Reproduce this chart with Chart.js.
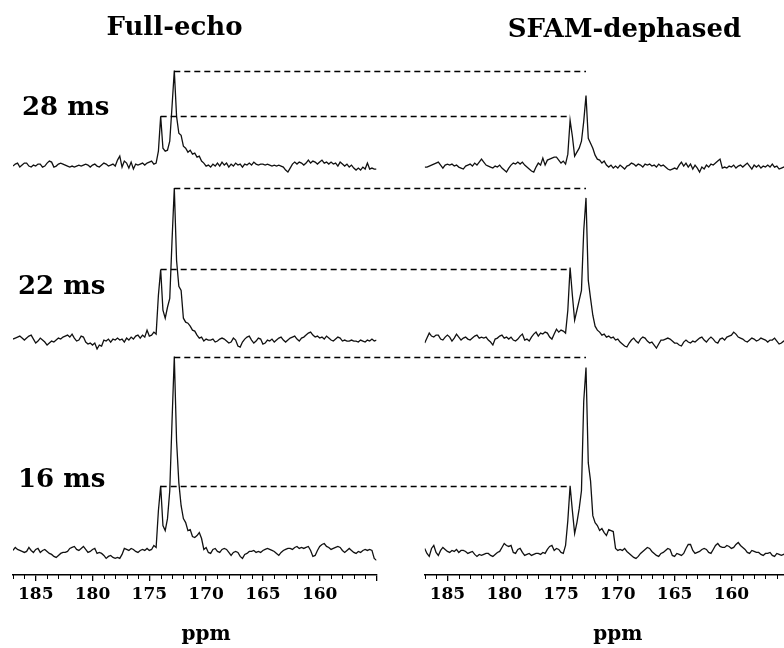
<!DOCTYPE html>
<html><head><meta charset="utf-8">
<script src="https://cdn.jsdelivr.net/npm/chart.js@4"></script>
<style>html,body{margin:0;padding:0;background:#fff}canvas{display:block}</style>
</head><body>
<canvas id="c" width="784" height="648"></canvas>
<script>
// chemical shift grid (ppm), shared by all six spectra
const ppm = [
187.0,186.8,186.6,186.4,186.2,186.0,185.8,185.6,185.4,185.2,
185.0,184.8,184.6,184.4,184.2,184.0,183.8,183.6,183.4,183.2,
183.0,182.8,182.6,182.4,182.2,182.0,181.8,181.6,181.4,181.2,
181.0,180.8,180.6,180.4,180.2,180.0,179.8,179.6,179.4,179.2,
179.0,178.8,178.6,178.4,178.2,178.0,177.8,177.6,177.4,177.2,
177.0,176.8,176.6,176.4,176.2,176.0,175.8,175.6,175.4,175.2,
175.0,174.8,174.6,174.4,174.2,174.0,173.8,173.6,173.4,173.2,
173.0,172.8,172.6,172.4,172.2,172.0,171.8,171.6,171.4,171.2,
171.0,170.8,170.6,170.4,170.2,170.0,169.8,169.6,169.4,169.2,
169.0,168.8,168.6,168.4,168.2,168.0,167.8,167.6,167.4,167.2,
167.0,166.8,166.6,166.4,166.2,166.0,165.8,165.6,165.4,165.2,
165.0,164.8,164.6,164.4,164.2,164.0,163.8,163.6,163.4,163.2,
163.0,162.8,162.6,162.4,162.2,162.0,161.8,161.6,161.4,161.2,
161.0,160.8,160.6,160.4,160.2,160.0,159.8,159.6,159.4,159.2,
159.0,158.8,158.6,158.4,158.2,158.0,157.8,157.6,157.4,157.2,
157.0,156.8,156.6,156.4,156.2,156.0,155.8,155.6,155.4,155.2,
155.0];

// intensities (arbitrary units, baseline = 0)
const echo28 = [
0,2,3,-1,1,3,3,0,-1,1, 0,2,2,-1,0,3,5,4,-1,0, 2,3,2,1,0,-1,0,-1,0,1,
0,1,2,1,-1,1,2,0,-1,1, 3,2,0,1,2,0,6,10,-1,5, 3,-2,4,-3,2,1,2,3,1,3,
4,5,2,3,15,50,18,15,16,25, 60,96,50,33,31,20,18,14,16,12, 13,9,10,5,3,0,1,-1,2,0,
3,0,4,1,3,-1,2,0,3,1, 2,-1,2,1,3,1,4,2,1,2, 2,1,2,1,0,1,0,1,0,-1,
-4,-6,-2,2,4,2,4,3,1,3, 6,3,5,4,2,4,6,3,4,2, 4,2,3,0,4,2,0,2,-1,1,
-2,-4,-2,-4,-1,-3,3,-3,-2,-3, -3];
const sfam28 = [
-1,-1,0,1,2,3,4,1,-2,1, 2,1,2,0,1,-1,-2,-3,0,1, 2,0,3,1,4,7,4,1,0,-1,
-2,0,-1,1,-2,-4,-6,-2,1,3, 2,4,2,4,1,-1,-3,-5,-6,-1, 3,1,8,1,6,7,8,9,9,6,
3,5,2,12,46,30,10,14,18,25, 45,71,28,23,18,11,7,6,3,5, 1,-1,1,-2,0,-2,1,-1,-3,0,
1,3,2,0,2,1,-1,2,1,2, 0,1,-1,2,0,1,-1,-3,-4,-3, -2,-3,1,4,0,3,-1,2,-3,1,
-2,-6,-1,-3,1,-1,2,1,3,5, 7,-2,-1,-2,0,-1,1,-2,0,1, -1,1,3,0,-3,1,-1,1,-2,0,
-1,1,-1,2,-1,0,-3,-2,-1,0, -1];
const echo22 = [
1,2,3,4,2,0,2,4,5,1, -3,-1,2,0,-2,-5,-3,-1,-2,0, 2,1,3,4,5,3,6,2,-1,0,
4,3,-2,-4,-3,-5,-3,-9,-5,-6, 0,-1,1,-2,1,0,2,0,1,-2, 2,0,3,1,4,5,2,5,3,10,
4,5,8,6,45,71,30,22,33,42, 100,153,80,54,50,22,18,17,14,10, 9,5,2,3,-1,1,0,0,1,-2,
-1,1,2,1,-1,-3,-2,2,0,-6, -7,-2,1,3,4,0,-3,-1,2,1, -4,-3,0,-1,1,-2,0,2,3,0,
-2,0,2,3,4,1,-1,2,3,5, 7,8,5,3,4,2,3,1,4,2, 0,-1,1,3,2,-1,0,-1,-1,0,
-1,-1,-2,0,-1,-2,0,-1,1,-1, 0];
const sfam22 = [
-3,2,7,4,3,5,5,1,0,3, 5,3,-1,2,6,3,0,2,3,1, 0,2,4,5,2,3,2,3,0,-2,
-5,1,2,4,5,2,3,1,3,0, -1,1,4,6,0,1,-1,3,6,8, 4,7,6,8,7,3,1,6,11,8,
10,9,7,30,73,45,20,30,40,50, 110,143,60,42,25,14,10,8,5,6, 3,4,2,3,0,1,-2,-4,-6,-7,
-3,0,2,-1,-3,1,3,2,-1,-3, -2,-5,-8,-4,0,0,1,2,1,-1, -3,-3,-5,-6,-2,0,-2,-3,-1,-2,
0,2,3,0,-2,1,3,1,-2,-3, 1,2,0,3,4,5,8,6,3,2, 1,-1,-2,0,2,1,-1,0,2,1,
0,-2,0,0,2,-1,-4,-3,-1,0, -1];
const echo16 = [
0,3,1,0,-1,-2,-1,3,0,-2, 1,2,-2,0,1,-1,-3,-4,-6,-7, -5,-3,-2,-2,-1,2,3,4,1,0,
2,4,1,-2,-1,1,2,-3,-2,-3, -5,-8,-6,-5,-7,-8,-7,-8,-4,2, 1,0,2,1,-1,-2,0,1,0,2,
0,1,5,3,40,65,25,20,32,60, 130,195,110,68,45,32,28,20,21,14, 13,15,18,12,1,3,-2,-3,1,2,
-1,-2,1,2,1,-2,-5,-2,-1,-2, -6,-8,-4,-3,-1,-1,0,-2,-1,-2, 0,1,2,1,0,-1,-3,-5,-2,0,
1,2,2,1,3,4,2,3,2,3, 4,0,-6,-5,0,4,6,7,4,3, 1,2,3,4,3,0,-2,0,2,0,
-2,-3,-1,-2,0,1,0,1,0,-8, -10];
const sfam16 = [
2,-3,-6,2,5,-2,-5,0,3,1, -1,-2,0,-1,1,-2,0,0,-1,-3, -2,-1,-4,-6,-4,-5,-4,-3,-3,-5,
-6,-4,-2,-1,3,7,5,4,5,-2, -3,1,2,-2,-5,-4,-3,-5,-4,-3, -3,-4,-2,-3,1,4,5,0,2,1,
-2,-3,5,30,65,40,17,28,42,60, 150,184,88,70,35,28,25,20,22,18, 15,21,20,19,2,0,1,0,2,-1,
-3,-5,-7,-8,-6,-3,-1,1,3,2, -1,-3,-5,-6,-3,-2,0,2,1,-5, -6,-3,-4,-5,-3,2,6,6,0,-3,
-2,-1,1,2,1,-2,-3,1,5,7, 4,3,3,5,4,2,3,6,8,5, 3,1,-2,-3,0,-1,-2,-2,-4,-5,
-3,-3,-2,-5,-6,-3,-4,-5,-4,-3, -4];

const rowLabels = ['28 ms', '22 ms', '16 ms'];
const columnTitles = ['Full-echo', 'SFAM-dephased'];
const axisTitle = 'ppm';
const tickLabels = [185, 180, 175, 170, 165, 160];
const linkPpmLeft = [174.0, 172.8];   // peak positions in the full-echo spectra
const linkPpmRight = [174.2, 172.8];  // matching peaks in the SFAM spectra

const rows = [
  {id: 'y28', label: rowLabels[0], echo: echo28, sfam: sfam28},
  {id: 'y22', label: rowLabels[1], echo: echo22, sfam: sfam22},
  {id: 'y16', label: rowLabels[2], echo: echo16, sfam: sfam16}
];
const toXY = arr => ppm.map((p, i) => ({x: p, y: arr[i]}));

const FONT = "'DejaVu Serif', 'Liberation Serif', serif";

function xAxis(min, max, weight, stackWeight) {
  return {
    type: 'linear', position: 'bottom', stack: 'cols', stackWeight, weight,
    reverse: true, min, max,
    border: {display: true, color: '#000', width: 1.5},
    grid: {
      display: true, drawOnChartArea: false, drawTicks: true, tickLength: 6, lineWidth: 1.3,
      color: c => (c.tick && Number.isInteger(c.tick.value) && c.tick.value % 5 === 0) ? '#000' : 'rgba(0,0,0,0)'
    },
    ticks: {
      stepSize: 1, autoSkip: false, includeBounds: false, maxRotation: 0, minRotation: 0, padding: 3,
      color: '#000', font: {family: FONT, size: 17, weight: 'bold'},
      callback: v => tickLabels.includes(v) ? String(v) : ''
    },
    afterFit: s => { s.paddingLeft = 0; s.paddingRight = 0; }
  };
}

const annotate = {
  id: 'annotate',
  afterDraw(chart) {
    const ctx = chart.ctx, s = chart.scales;
    ctx.save();
    // dashed connectors at full-echo peak heights
    ctx.setLineDash([6, 4]);
    ctx.lineWidth = 1.3;
    ctx.strokeStyle = '#000';
    rows.forEach(r => {
      const ys = s[r.id];
      linkPpmLeft.forEach((pl, k) => {
        const idx = ppm.indexOf(pl);
        const y = Math.round(ys.getPixelForValue(r.echo[idx])) + 0.5;
        ctx.beginPath();
        ctx.moveTo(s.xL.getPixelForValue(pl), y);
        ctx.lineTo(s.xR.getPixelForValue(linkPpmRight[k]), y);
        ctx.stroke();
      });
    });
    ctx.setLineDash([]);
    // minor ticks
    ctx.strokeStyle = '#000';
    ctx.lineWidth = 1;
    ['xL', 'xR'].forEach(id => {
      const sc = s[id];
      sc.ticks.forEach(t => {
        if (Number.isInteger(t.value) && t.value % 5 !== 0) {
          const x = Math.round(sc.getPixelForValue(t.value)) + 0.5;
          ctx.beginPath();
          ctx.moveTo(x, sc.top);
          ctx.lineTo(x, sc.top + 4);
          ctx.stroke();
        }
      });
    });
    // texts
    ctx.fillStyle = '#000';
    ctx.textBaseline = 'alphabetic';
    ctx.font = `bold 26px ${FONT}`;
    ctx.textAlign = 'center';
    ctx.fillText(columnTitles[0], 174.5, 35);
    ctx.fillText(columnTitles[1], 624.5, 37);
    ctx.textAlign = 'left';
    ctx.fillText(rows[0].label, 22, 115);
    ctx.fillText(rows[1].label, 18, 294);
    ctx.fillText(rows[2].label, 18, 487);
    ctx.textAlign = 'center';
    ctx.font = `bold 20px ${FONT}`;
    ctx.fillText(axisTitle, s.xL.getPixelForValue(170), 640);
    ctx.fillText(axisTitle, s.xR.getPixelForValue(170), 640);
    ctx.restore();
  }
};

const lineStyle = {borderColor: '#111', borderWidth: 1.3, pointRadius: 0, tension: 0, fill: false};

new Chart(document.getElementById('c'), {
  type: 'line',
  data: {
    datasets: rows.flatMap(r => [
      Object.assign({label: columnTitles[0] + ' ' + r.label, data: toXY(r.echo), xAxisID: 'xL', yAxisID: r.id}, lineStyle),
      Object.assign({label: columnTitles[1] + ' ' + r.label, data: toXY(r.sfam), xAxisID: 'xR', yAxisID: r.id}, lineStyle)
    ])
  },
  options: {
    responsive: false,
    animation: false,
    devicePixelRatio: 1,
    layout: {padding: {top: 60, left: 13, right: 0, bottom: 40.6}, autoPadding: false},
    plugins: {legend: {display: false}, tooltip: {enabled: false}, title: {display: false}},
    scales: {
      xL: xAxis(155, 187, 1, 363.5),
      xGap: {type: 'linear', display: false, position: 'bottom', stack: 'cols', stackWeight: 48.2, weight: 2, min: 0, max: 1},
      xR: xAxis(155.37, 187, 3, 359.3),
      y28: {type: 'linear', display: false, position: 'left', stack: 'rows', stackWeight: 120, weight: 3, min: -13.3, max: 106.7},
      y22: {type: 'linear', display: false, position: 'left', stack: 'rows', stackWeight: 172, weight: 2, min: -10.3, max: 161.7},
      y16: {type: 'linear', display: false, position: 'left', stack: 'rows', stackWeight: 226, weight: 1, min: -24.7, max: 201.3}
    }
  },
  plugins: [annotate]
});
</script>
</body></html>
